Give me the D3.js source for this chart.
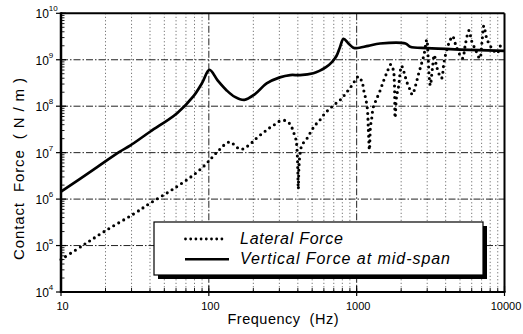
<!DOCTYPE html>
<html><head><meta charset="utf-8">
<script src="https://cdn.jsdelivr.net/npm/d3@7"></script>
<style>
html,body{margin:0;padding:0;background:#fff;}
svg{display:block;font-family:"Liberation Sans",Arial,Helvetica,sans-serif;}
</style></head><body>
<svg id="c" width="523" height="334"></svg>
<script>
// ---- data ----
const xTickLabels = ["10","100","1000","10000"];
const xTickValues = [10,100,1000,10000];
const yTickExps = [4,5,6,7,8,9,10];
const seriesNames = ["Lateral Force","Vertical Force at mid-span"];
const xTitle = "Frequency  (Hz)";
const yTitle = "Contact  Force  ( N / m )";

// frequency (Hz) and log10 of force (N/m)
const lateralFreq = [10,14,20,31,40,57,81,96,104,112,121,131,141,151,165,179,196,213,234,254,277,302,330,357,373,389,396,400,403,407,415,427,458,490,520,560,612,665,730,795,850,915,965,1030,1090,1120,1150,1180,1200,1220,1240,1270,1290,1340,1430,1530,1610,1700,1770,1800,1820,1860,1920,1960,2010,2100,2180,2300,2380,2510,2610,2720,2850,2980,3050,3100,3150,3250,3350,3450,3600,3750,3900,4100,4300,4450,4700,5000,5200,5450,5750,6000,6400,6800,7050,7250,7600,8200,8900,9400,10000];
const lateralLog  = [4.70,5.00,5.32,5.68,5.91,6.21,6.55,6.76,6.88,6.99,7.10,7.20,7.23,7.14,7.07,7.12,7.22,7.33,7.43,7.52,7.60,7.68,7.69,7.60,7.45,7.27,7.00,6.60,6.22,6.70,7.00,7.17,7.29,7.45,7.58,7.69,7.85,7.96,8.07,8.17,8.29,8.42,8.53,8.64,8.51,8.32,8.17,7.96,7.50,7.06,7.56,7.78,7.96,8.10,8.31,8.57,8.74,8.90,8.78,8.50,7.75,8.20,8.42,8.67,8.87,8.71,8.53,8.35,8.25,8.46,8.67,8.87,9.10,9.43,9.00,8.60,8.45,8.80,9.10,8.90,8.70,8.60,8.95,9.25,9.43,9.51,9.30,9.10,9.03,9.35,9.63,9.40,9.20,9.03,9.40,9.73,9.45,9.25,9.14,9.30,9.35];
const verticalFreq = [10,16.5,25,29.3,40,61,78.5,90,101,115,132,150,174,205,246,302,355,414,509,560,620,680,730,771,815,880,950,1000,1200,1440,2140,2300,3000,5000,10000];
const verticalLog  = [6.16,6.63,7.02,7.15,7.45,7.85,8.21,8.50,8.78,8.55,8.34,8.20,8.135,8.26,8.49,8.62,8.67,8.67,8.71,8.76,8.84,8.95,9.08,9.27,9.45,9.35,9.26,9.25,9.30,9.35,9.35,9.28,9.25,9.22,9.19];

// ---- chart ----
const svg = d3.select("#c");
const L = 61, R = 504.5, T = 13.3, B = 292;
const x = d3.scaleLog().domain([10,10000]).range([L,R]);
const y = d3.scaleLog().domain([1e4,1e10]).range([B,T]);

const gGrid = svg.append("g");
const minorX = [];
[10,100,1000].forEach(d=>{for(let k=2;k<=9;k++) minorX.push(d*k);});
gGrid.selectAll("line.mx").data(minorX).enter().append("line")
  .attr("x1",d=>x(d)).attr("x2",d=>x(d)).attr("y1",T).attr("y2",B)
  .attr("stroke","#444").attr("stroke-width",0.9).attr("stroke-dasharray","1 2.5");
gGrid.selectAll("line.Mx").data([100,1000]).enter().append("line")
  .attr("x1",d=>x(d)).attr("x2",d=>x(d)).attr("y1",T).attr("y2",B)
  .attr("stroke","#222").attr("stroke-width",1).attr("stroke-dasharray","7 2 1.5 2");
gGrid.selectAll("line.My").data([5,6,7,8,9]).enter().append("line")
  .attr("x1",L).attr("x2",R).attr("y1",d=>y(Math.pow(10,d))).attr("y2",d=>y(Math.pow(10,d)))
  .attr("stroke","#222").attr("stroke-width",1).attr("stroke-dasharray","7 2 1.5 2");

const gAx = svg.append("g").attr("stroke","#000");
const minorY = [];
for(let e=4;e<10;e++) for(let k=2;k<=9;k++) minorY.push(k*Math.pow(10,e));
gAx.selectAll("line.ty").data(minorY).enter().append("line")
  .attr("x1",L).attr("x2",L+3.5).attr("y1",d=>y(d)).attr("y2",d=>y(d)).attr("stroke-width",0.9);
gAx.selectAll("line.tY").data(yTickExps).enter().append("line")
  .attr("x1",L-5).attr("x2",L+5).attr("y1",d=>y(Math.pow(10,d))).attr("y2",d=>y(Math.pow(10,d))).attr("stroke-width",1.2);
gAx.selectAll("line.tx").data(minorX).enter().append("line")
  .attr("x1",d=>x(d)).attr("x2",d=>x(d)).attr("y1",B).attr("y2",B-4).attr("stroke-width",0.9);
gAx.selectAll("line.tX").data(xTickValues).enter().append("line")
  .attr("x1",d=>x(d)).attr("x2",d=>x(d)).attr("y1",B+4).attr("y2",B-6).attr("stroke-width",1.2);

svg.append("line").attr("x1",L).attr("x2",R).attr("y1",T).attr("y2",T).attr("stroke","#000").attr("stroke-width",2);
svg.append("line").attr("x1",R).attr("x2",R).attr("y1",T).attr("y2",B).attr("stroke","#000").attr("stroke-width",2);
svg.append("line").attr("x1",L).attr("x2",L).attr("y1",T-1).attr("y2",B+1).attr("stroke","#000").attr("stroke-width",2.5);
svg.append("line").attr("x1",L-1).attr("x2",R+1).attr("y1",B).attr("y2",B).attr("stroke","#000").attr("stroke-width",2);

const lineLat = d3.line().x(d=>x(d[0])).y(d=>y(Math.pow(10,d[1]))).curve(d3.curveCatmullRom.alpha(0.5));
const lineVer = d3.line().x(d=>x(d[0])).y(d=>y(Math.pow(10,d[1]))).curve(d3.curveCatmullRom.alpha(0.5));
const lat = lateralFreq.map((f,i)=>[f,lateralLog[i]]);
const ver = verticalFreq.map((f,i)=>[f,verticalLog[i]]);
svg.append("path").attr("d",lineLat(lat)).attr("fill","none").attr("stroke","#000")
  .attr("stroke-width",3.1).attr("stroke-linecap","round").attr("stroke-dasharray","0 5.7");
svg.append("path").attr("d",lineVer(ver)).attr("fill","none").attr("stroke","#000")
  .attr("stroke-width",2.7).attr("stroke-linejoin","round");

svg.selectAll("text.xl").data(xTickValues).enter().append("text")
  .attr("x",d=>x(d)+1.5).attr("y",309.5).attr("text-anchor","middle")
  .attr("font-size",11).text((d,i)=>xTickLabels[i]);
const yl = svg.selectAll("text.yl").data(yTickExps).enter().append("text")
  .attr("x",35.5).attr("y",d=>y(Math.pow(10,d))+5).attr("font-size",12);
yl.append("tspan").text("10");
yl.append("tspan").attr("dy",-7).attr("font-size",8).text(d=>d);

svg.append("text").attr("x",283).attr("y",323.5).attr("text-anchor","middle")
  .attr("font-size",14.5).style("white-space","pre").attr("textLength",111).attr("lengthAdjust","spacing").text(xTitle);
svg.append("text").attr("transform","translate(24,169) rotate(-90)").attr("text-anchor","middle")
  .attr("font-size",15).style("white-space","pre").attr("textLength",182).attr("lengthAdjust","spacing").text(yTitle);

const lg = svg.append("g");
lg.append("rect").attr("x",158).attr("y",226).attr("width",329).attr("height",53).attr("fill","#000");
lg.append("rect").attr("x",154).attr("y",222).attr("width",329).attr("height",53).attr("fill","#fff").attr("stroke","#000").attr("stroke-width",1.2);
lg.append("line").attr("x1",185.5).attr("x2",227).attr("y1",239).attr("y2",239)
  .attr("stroke","#000").attr("stroke-width",2.8).attr("stroke-linecap","round").attr("stroke-dasharray","0 5.2");
lg.append("line").attr("x1",185).attr("x2",229).attr("y1",259.3).attr("y2",259.3)
  .attr("stroke","#000").attr("stroke-width",2.6);
lg.append("text").attr("x",240).attr("y",244).attr("font-size",16).attr("font-style","italic")
  .style("white-space","pre").attr("textLength",103).attr("lengthAdjust","spacing").text(seriesNames[0]);
lg.append("text").attr("x",240).attr("y",264).attr("font-size",16).attr("font-style","italic")
  .style("white-space","pre").attr("textLength",210).attr("lengthAdjust","spacing").text(seriesNames[1]);
</script>
</body></html>
